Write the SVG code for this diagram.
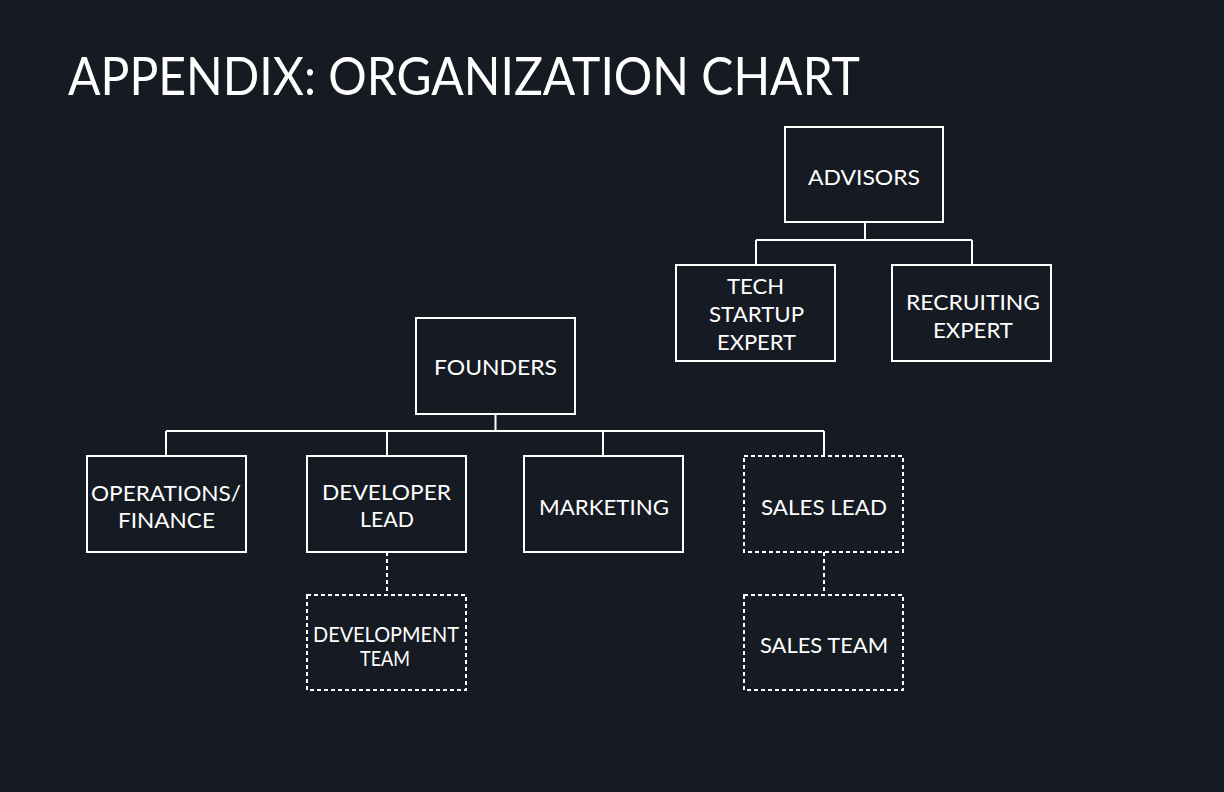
<svg xmlns="http://www.w3.org/2000/svg" width="1224" height="792" viewBox="0 0 1224 792">
<style>
.bg{fill:#161a22}
.box{fill:#161a22;stroke:#ffffff;stroke-width:2}
.dash{stroke-dasharray:4 3}
.t{fill:#ffffff;font-family:Lato,"Open Sans","Liberation Sans",sans-serif;font-size:21px;text-anchor:middle}
.title{fill:#ffffff;font-family:Lato,"Open Sans","Liberation Sans",sans-serif;font-size:52px}
.ln{fill:none;stroke:#ffffff;stroke-width:2}
</style>
<rect class="bg" x="0" y="0" width="1224" height="792"/>
<text class="title" x="68" y="95" textLength="792" lengthAdjust="spacingAndGlyphs">APPENDIX: ORGANIZATION CHART</text>
<g id="connectors">
<path class="ln" d="M865 223V240M756 240H972M756 240V265M972 240V265"/>
<path class="ln" d="M495.5 414V431M166 431H824M166 431V456M387 431V456M603 431V456M824 431V456"/>
<path class="ln dash" d="M387 552V595M824 552V595"/>
</g>
<g id="advisors"><rect class="box" x="785" y="127" width="158" height="95"/><text class="t" x="864" y="184.5" textLength="112" lengthAdjust="spacingAndGlyphs">ADVISORS</text></g>
<g id="tech"><rect class="box" x="676" y="265" width="159" height="96"/>
<text class="t" x="755.5" y="294" textLength="57" lengthAdjust="spacingAndGlyphs">TECH</text>
<text class="t" x="756.5" y="322" textLength="95" lengthAdjust="spacingAndGlyphs">STARTUP</text>
<text class="t" x="756.5" y="350" textLength="79" lengthAdjust="spacingAndGlyphs">EXPERT</text></g>
<g id="recruiting"><rect class="box" x="892" y="265" width="159" height="96"/>
<text class="t" x="973" y="310" textLength="134" lengthAdjust="spacingAndGlyphs">RECRUITING</text>
<text class="t" x="973" y="338" textLength="80" lengthAdjust="spacingAndGlyphs">EXPERT</text></g>
<g id="founders"><rect class="box" x="416" y="318" width="159" height="96"/><text class="t" x="495.5" y="375" textLength="123" lengthAdjust="spacingAndGlyphs">FOUNDERS</text></g>
<g id="operations"><rect class="box" x="87" y="456" width="159" height="96"/>
<text class="t" x="166" y="500.5" textLength="150" lengthAdjust="spacingAndGlyphs">OPERATIONS/</text>
<text class="t" x="166.5" y="528" textLength="97" lengthAdjust="spacingAndGlyphs">FINANCE</text></g>
<g id="devlead"><rect class="box" x="307" y="456" width="159" height="96"/>
<text class="t" x="386.5" y="499.5" textLength="129" lengthAdjust="spacingAndGlyphs">DEVELOPER</text>
<text class="t" x="387" y="527" textLength="54" lengthAdjust="spacingAndGlyphs">LEAD</text></g>
<g id="marketing"><rect class="box" x="524" y="456" width="159" height="96"/>
<text class="t" x="604" y="515" textLength="130" lengthAdjust="spacingAndGlyphs">MARKETING</text></g>
<g id="saleslead"><rect class="box dash" x="744" y="456" width="159" height="96"/>
<text class="t" x="824" y="515" textLength="126" lengthAdjust="spacingAndGlyphs">SALES LEAD</text></g>
<g id="devteam"><rect class="box dash" x="307" y="595" width="159" height="95"/>
<text class="t" x="386" y="642" textLength="146" lengthAdjust="spacingAndGlyphs">DEVELOPMENT</text>
<text class="t" x="385" y="666" textLength="50" lengthAdjust="spacingAndGlyphs">TEAM</text></g>
<g id="salesteam"><rect class="box dash" x="744" y="595" width="159" height="95"/>
<text class="t" x="824" y="653" textLength="128" lengthAdjust="spacingAndGlyphs">SALES TEAM</text></g>
</svg>
